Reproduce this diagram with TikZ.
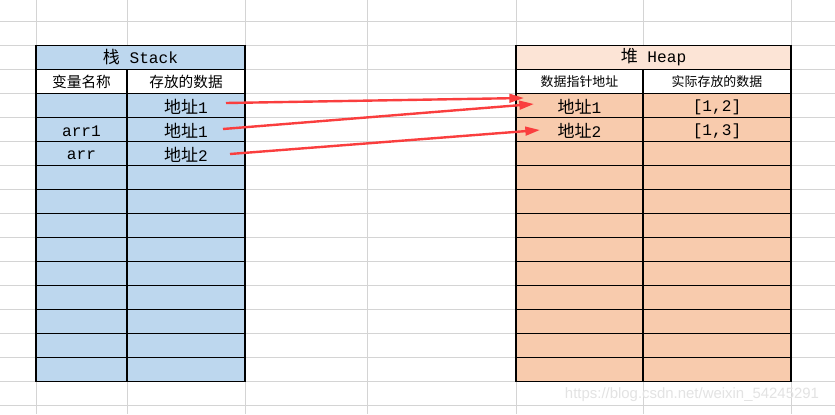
\documentclass[tikz,border=0pt]{standalone}
\usepackage{fontspec}
\setmainfont{Liberation Mono}[Scale=0.95]
\newfontfamily\cjk{Noto Sans CJK SC}
\newfontfamily\wmfont{Liberation Sans}
\usetikzlibrary{arrows.meta}
\definecolor{stackblue}{RGB}{189,215,238}
\definecolor{heaptop}{RGB}{252,228,214}
\definecolor{heapfill}{RGB}{248,203,173}
\definecolor{gridgray}{RGB}{212,212,212}
\definecolor{arrowred}{RGB}{250,62,62}
\newcommand{\dizhi}[1]{{\cjk 地址}#1}

\begin{document}
\begin{tikzpicture}[x=0.75pt,y=-0.75pt,
  gridline/.style={gridgray, line width=0.75pt},
  cellline/.style={black, line width=1.1pt},
  title/.style={font=\fontsize{12.75}{14}\selectfont},
  head/.style={font=\cjk\fontsize{11}{13}\selectfont},
  smallhead/.style={font=\cjk\fontsize{9.7}{12}\selectfont},
  cell/.style={font=\fontsize{12.75}{14}\selectfont},
  pointer/.style={arrowred, line width=1.8pt, -{Triangle[length=11pt,width=6.5pt]}},
  watermark/.style={font=\wmfont\fontsize{11.2}{13}\selectfont, text=gray!22}]

  \useasboundingbox (0,0) rectangle (835,414);
  \fill[white] (0,0) rectangle (835,414);

  % Sheet grid
  \foreach \k in {0,...,16}
    \draw[gridline] (0,{21.5+24*\k}) -- (835,{21.5+24*\k});
  \foreach \x in {36,127,245,367,516,643,791}
    \draw[gridline] (\x,0) -- (\x,414);

  % Stack table
  \fill[stackblue] (36,45.5) rectangle (245,69.5);
  \fill[white] (36,69.5) rectangle (245,93.5);
  \fill[stackblue] (36,93.5) rectangle (245,381.5);
  \foreach \k in {1,...,13}
    \draw[cellline] (36,{45.5+24*\k}) -- (245,{45.5+24*\k});
  \draw[cellline] (127,69.5) -- (127,381.5);
  \draw[cellline] (36,45.5) rectangle (245,381.5);

  % Heap table
  \fill[heaptop] (516,45.5) rectangle (791,69.5);
  \fill[white] (516,69.5) rectangle (791,93.5);
  \fill[heapfill] (516,93.5) rectangle (791,381.5);
  \foreach \k in {1,...,13}
    \draw[cellline] (516,{45.5+24*\k}) -- (791,{45.5+24*\k});
  \draw[cellline] (643,69.5) -- (643,381.5);
  \draw[cellline] (516,45.5) rectangle (791,381.5);

  % Define nodes
  \node[title]     (stitle) at (140.5,57.5) {{\cjk 栈} Stack};
  \node[head]      (vname)  at (81.5,81.5)  {变量名称};
  \node[head]      (vdata)  at (186,81.5)   {存放的数据};
  \node[cell]      (s1)     at (186,107)    {\dizhi{1}};
  \node[cell]      (s2)     at (186,131)    {\dizhi{1}};
  \node[cell]      (s3)     at (186,155)    {\dizhi{2}};
  \node[cell]      (v2)     at (81.5,131)   {arr1};
  \node[cell]      (v3)     at (81.5,155)   {arr};

  \node[title]     (htitle) at (653.5,57.5) {{\cjk 堆} Heap};
  \node[smallhead] (haddr)  at (579.5,81.5) {数据指针地址};
  \node[smallhead] (hdata)  at (717,81.5)   {实际存放的数据};
  \node[cell]      (h1)     at (579.5,107)  {\dizhi{1}};
  \node[cell]      (h2)     at (579.5,131)  {\dizhi{2}};
  \node[cell]      (d1)     at (717,107)    {[1,2]};
  \node[cell]      (d2)     at (717,131)    {[1,3]};

  \coordinate (p1) at (226,103);
  \coordinate (p2) at (223,129);
  \coordinate (p3) at (230,154);
  \coordinate (q1) at (524,98);
  \coordinate (q2) at (534,104);
  \coordinate (q3) at (540,130);

  % Connect the nodes
  \draw[pointer] (p1) -- (q1);
  \draw[pointer] (p2) -- (q2);
  \draw[pointer] (p3) -- (q3);

  \node[watermark] (wm) at (692,395) {https://blog.csdn.net/weixin\_54245291};

\end{tikzpicture}
\end{document}
